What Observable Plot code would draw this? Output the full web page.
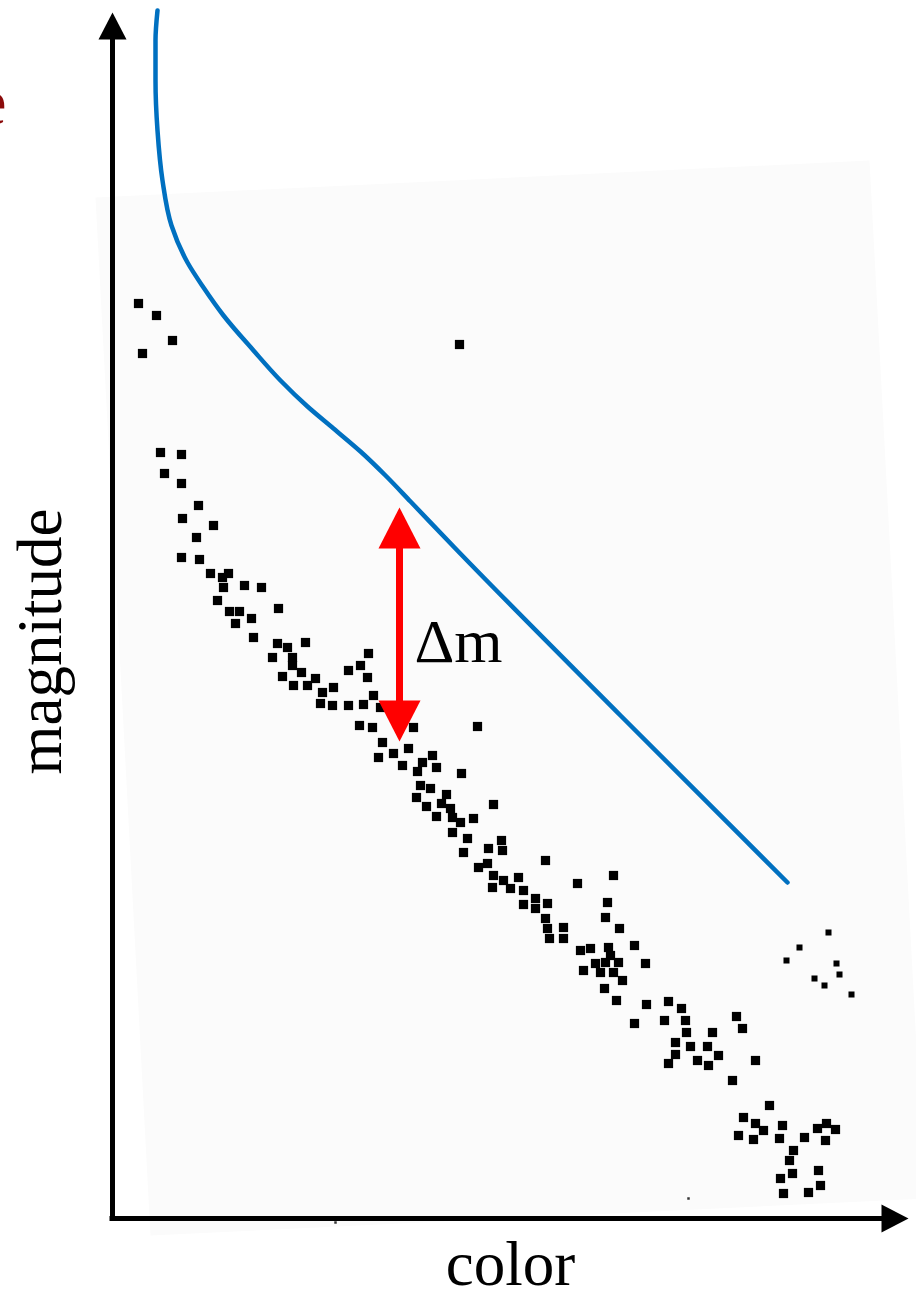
<!DOCTYPE html>
<html>
<head>
<meta charset="utf-8">
<script src="https://cdn.jsdelivr.net/npm/d3@7"></script>
<script src="https://cdn.jsdelivr.net/npm/@observablehq/plot@0.6"></script>
<style>
  html, body { margin: 0; padding: 0; background: #ffffff; }
  #chart svg { display: block; overflow: visible; }
</style>
</head>
<body>
<div id="chart"></div>
<script>
// Chart units: color runs left→right, magnitude grows downward (fainter stars lower).
// Stars of the cluster sequence (color, magnitude)
const clusterStars = [
  [138,303],[156,315],[142,353],[172,340],[459,344],
  [160,452],[181,454],[164,473],[181,483],[198,505],[182,518],[213,525],[196,537],
  [181,557],[199,559],[210,573],[222,577],[228,573],[223,587],[244,585],[261,587],
  [217,600],[229,611],[239,611],[235,623],[251,618],[278,608],[253,637],[277,643],
  [287,647],[305,642],[272,657],[292,657],[292,665],[301,672],[282,676],[293,685],
  [307,685],[315,678],[322,692],[333,687],[320,703],[332,705],[348,670],[360,665],
  [368,653],[367,677],[348,705],[363,704],[373,695],[380,707],[359,725],[372,727],
  [382,742],[378,757],[393,753],[408,748],[413,727],
  [402,765],[477,726],[422,762],[432,755],[436,767],[417,771],[461,773],[420,785],
  [430,788],[446,794],[416,797],[426,806],[441,803],[450,808],[493,804],[436,816],
  [452,817],[460,822],[473,818],[452,832],[467,838],[463,852],[501,840],[488,848],
  [502,850],[478,867],[487,863],[493,875],[503,880],[510,888],[518,877],[523,890],
  [492,887],[545,860],[523,904],[535,898],[547,903],[535,908],[545,918],[547,928],
  [549,938],[563,927],[563,938],[577,883],[613,875],[580,950],[590,948],[595,963],
  [583,970],[600,972],[610,955],
  [607,902],[605,917],[619,928],[634,945],[608,947],[605,962],[618,962],[613,972],
  [622,980],[604,988],[645,963],[616,1000],[646,1004],[668,1001],[681,1008],[634,1023],
  [664,1020],[685,1020],[686,1032],[712,1032],[675,1042],[690,1046],[707,1046],[675,1054],
  [668,1063],[697,1060],[708,1065],[718,1055],[736,1016],[742,1028],[755,1060],[732,1080],
  [769,1105],[743,1117],[755,1123],[763,1130],[738,1135],[753,1139],[782,1125],[779,1138],
  [804,1137],[817,1128],[826,1123],[835,1129],[825,1140],[793,1150],[789,1160],[792,1173],
  [780,1178],[818,1170],[820,1185],[808,1192],[783,1193]
];
// Faint scattered stars (smaller symbols)
const faintStars = [
  [828,932],[799,947],[786,960],[836,963],[839,974],[814,978],[824,985],[851,994]
];
const specks = [[688,1198],[335,1222]];

// Reference sequence (blue curve)
const referenceCurve = [
  [157,10],[155,40],[155,80],[157,130],[162,180],[171,225],[187,262],[203,287],
  [223,315],[253,350],[280,380],[307,406],[333,428],[360,451],[385,475],[410,501],
  [453,546],[620,715],[787,882]
];

// Δm offset annotation: color position and the two magnitudes it joins
const deltaM = { color: 399, magTop: 507, magBottom: 741, label: "Δm", labelColor: 414, labelMag: 661 };

// Axis extents
const axisOrigin = { color: 112, mag: 1218 };
const axisEnds = { colorMax: 908, magMin: 12 };

// Faint scanned backdrop (corners)
const scanArea = [[95,197],[869,160],[924,1198],[150,1235],[95,197]];

const axisLabels = [
  { text: "color", color: 510, mag: 1284, rotate: 0 },
  { text: "magnitude", color: 60, mag: 641, rotate: -90 }
];
const clippedWord = { text: "e", color: 6, mag: 123 };

// ---- derived geometry (in chart units) ----
function tri(id, pts) { return pts.map(p => ({ id, x: p[0], y: p[1] })); }
const headW = 21, headL = 41;
const redHeads = [
  ...tri("up", [[deltaM.color, deltaM.magTop], [deltaM.color - headW, deltaM.magTop + headL], [deltaM.color + headW, deltaM.magTop + headL]]),
  ...tri("down", [[deltaM.color, deltaM.magBottom], [deltaM.color - headW, deltaM.magBottom - headL], [deltaM.color + headW, deltaM.magBottom - headL]])
];
const axHead = 27, axHalf = 14;
const axisHeads = [
  ...tri("y", [[axisOrigin.color, axisEnds.magMin], [axisOrigin.color - axHalf, axisEnds.magMin + axHead], [axisOrigin.color + axHalf, axisEnds.magMin + axHead]]),
  ...tri("x", [[axisEnds.colorMax, axisOrigin.mag], [axisEnds.colorMax - axHead, axisOrigin.mag - axHalf], [axisEnds.colorMax - axHead, axisOrigin.mag + axHalf]])
];

const serif = "'Liberation Serif', 'DejaVu Serif', serif";

const chart = Plot.plot({
  width: 916,
  height: 1290,
  margin: 0,
  x: { domain: [0, 916], range: [0, 916], axis: null },
  y: { domain: [0, 1290], range: [0, 1290], axis: null },
  style: { background: "#ffffff", overflow: "visible" },
  marks: [
    Plot.line(scanArea, { x: d => d[0], y: d => d[1], fill: "#fbfbfb", stroke: null }),
    Plot.line(referenceCurve, { x: d => d[0], y: d => d[1], stroke: "#0070c0", strokeWidth: 4.5, curve: "monotone-y", strokeLinecap: "round" }),
    Plot.dot(clusterStars, { x: d => d[0], y: d => d[1], symbol: "square", r: 5.2, fill: "#000", stroke: null }),
    Plot.dot(faintStars, { x: d => d[0], y: d => d[1], symbol: "square", r: 3.4, fill: "#000", stroke: null }),
    Plot.dot(specks, { x: d => d[0], y: d => d[1], symbol: "square", r: 1.4, fill: "#333", stroke: null }),
    // axes
    Plot.ruleX([axisOrigin.color], { y1: axisOrigin.mag + 2.5, y2: axisEnds.magMin + axHead - 2, stroke: "#000", strokeWidth: 5 }),
    Plot.ruleY([axisOrigin.mag], { x1: axisOrigin.color - 2.5, x2: axisEnds.colorMax - axHead + 2, stroke: "#000", strokeWidth: 5 }),
    Plot.line(axisHeads, { x: "x", y: "y", z: "id", fill: "#000", stroke: null }),
    // Δm arrow
    Plot.ruleX([deltaM.color], { y1: deltaM.magTop + headL - 2, y2: deltaM.magBottom - headL + 2, stroke: "#ff0000", strokeWidth: 7 }),
    Plot.line(redHeads, { x: "x", y: "y", z: "id", fill: "#ff0000", stroke: null }),
    Plot.text([deltaM], { x: "labelColor", y: "labelMag", text: "label", fontSize: 62, fontFamily: serif, textAnchor: "start", lineAnchor: "bottom", fill: "#000" }),
    // labels
    Plot.text(axisLabels, { x: "color", y: "mag", text: "text", rotate: "rotate", fontSize: 63, fontFamily: serif, textAnchor: "middle", lineAnchor: "bottom", fill: "#000" }),
    Plot.text([clippedWord], { x: "color", y: "mag", text: "text", fontSize: 66, fontFamily: serif, textAnchor: "end", lineAnchor: "bottom", fill: "#8b0b0b" })
  ]
});
document.getElementById("chart").append(chart);
</script>
</body>
</html>
